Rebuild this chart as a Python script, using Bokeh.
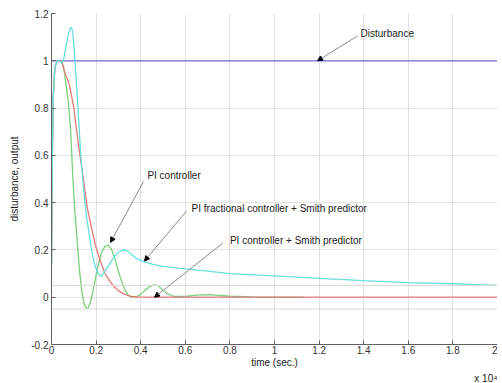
from bokeh.plotting import figure
from bokeh.models import FixedTicker, Span, Arrow, NormalHead, Label, Title
from bokeh.embed import file_html
from bokeh.resources import INLINE

# ---------------- data ----------------
x_ticks = [0, 0.2, 0.4, 0.6, 0.8, 1.0, 1.2, 1.4, 1.6, 1.8, 2.0]
x_tick_labels = ["0", "0.2", "0.4", "0.6", "0.8", "1", "1.2", "1.4", "1.6", "1.8", "2"]
y_ticks = [-0.2, 0, 0.2, 0.4, 0.6, 0.8, 1.0, 1.2]
y_tick_labels = ["-0.2", "0", "0.2", "0.4", "0.6", "0.8", "1", "1.2"]

t_dist = [0, 2.0]
y_dist = [1.0, 1.0]

t_cyan = [0, 0.003, 0.008, 0.015, 0.025, 0.035, 0.045, 0.055, 0.065, 0.075, 0.085,
          0.09, 0.095, 0.1, 0.11, 0.12, 0.13, 0.14, 0.15, 0.16, 0.17, 0.18, 0.19,
          0.2, 0.21, 0.22, 0.23, 0.24, 0.26, 0.28, 0.3, 0.32, 0.34, 0.36, 0.38, 0.4,
          0.45, 0.5, 0.6, 0.7, 0.8, 1.0, 1.2, 1.4, 1.6, 1.8, 2.0]
y_cyan = [0.14, 0.55, 0.85, 0.97, 1.0, 1.0, 0.99, 1.01, 1.06, 1.11, 1.14,
          1.14, 1.12, 1.07, 0.93, 0.78, 0.62, 0.5, 0.4, 0.32, 0.26, 0.2, 0.15,
          0.12, 0.1, 0.09, 0.095, 0.11, 0.14, 0.17, 0.19, 0.2, 0.195, 0.18, 0.165, 0.155,
          0.14, 0.13, 0.12, 0.11, 0.1, 0.09, 0.08, 0.07, 0.062, 0.057, 0.05]

t_red = [0, 0.003, 0.008, 0.015, 0.025, 0.035, 0.045, 0.06, 0.08, 0.1, 0.12, 0.14, 0.15,
         0.16, 0.18, 0.2, 0.22, 0.24, 0.26, 0.28, 0.3, 0.32, 0.34, 0.36, 0.38, 0.4,
         0.5, 1.0, 1.5, 2.0]
y_red = [0.14, 0.55, 0.85, 0.97, 1.0, 1.0, 1.0, 0.95, 0.9, 0.8, 0.65, 0.52, 0.45,
         0.38, 0.29, 0.21, 0.15, 0.1, 0.07, 0.045, 0.028, 0.016, 0.008, 0.003, 0.001, 0.0,
         0.0, 0.0, 0.0, 0.0]

t_green = [0, 0.003, 0.008, 0.015, 0.025, 0.035, 0.045, 0.055, 0.065, 0.075, 0.085,
           0.095, 0.105, 0.115, 0.125, 0.135, 0.145, 0.155, 0.165, 0.175, 0.185, 0.195,
           0.21, 0.225, 0.24, 0.255, 0.27, 0.285, 0.3, 0.315, 0.33, 0.345, 0.36, 0.38,
           0.4, 0.42, 0.44, 0.46, 0.48, 0.5, 0.52, 0.55, 0.6, 0.65, 0.7, 0.75, 0.8, 0.9,
           1.0, 1.13]
y_green = [0.14, 0.55, 0.85, 0.97, 1.0, 1.0, 1.0, 0.97, 0.9, 0.83, 0.72,
           0.52, 0.36, 0.24, 0.12, 0.03, -0.025, -0.045, -0.045, -0.02, 0.02, 0.07,
           0.14, 0.19, 0.215, 0.22, 0.2, 0.16, 0.11, 0.065, 0.03, 0.008, 0.0, 0.002,
           0.012, 0.03, 0.045, 0.052, 0.048, 0.03, 0.014, 0.003, 0.003, 0.009, 0.011,
           0.008, 0.004, 0.001, 0.0, 0.0]

band_levels = [0.05, -0.05]

# annotations: text, text x, text y, arrow tail x, tail y, tip x, tip y
ann_text = ["Disturbance", "PI controller",
            "PI fractional controller + Smith predictor",
            "PI controller + Smith predictor"]
ann_tx = [1.386, 0.43, 0.628, 0.80]
ann_ty = [1.114, 0.513, 0.377, 0.240]
arr_x0 = [1.372, 0.413, 0.605, 0.767]
arr_y0 = [1.105, 0.490, 0.364, 0.228]
arr_x1 = [1.193, 0.265, 0.417, 0.462]
arr_y1 = [1.0, 0.232, 0.153, 0.0]

FONT = "Liberation Sans"

p = figure(width=497, height=383, output_backend="svg", toolbar_location=None,
           x_range=(0, 2), y_range=(-0.2, 1.2),
           min_border_left=51, min_border_right=0, min_border_top=13, min_border_bottom=0)
p.outline_line_color = None
p.background_fill_color = "white"

for ax, ticks, labels in ((p.xaxis[0], x_ticks, x_tick_labels), (p.yaxis[0], y_ticks, y_tick_labels)):
    ax.ticker = FixedTicker(ticks=ticks)
    ax.major_label_overrides = {t: l for t, l in zip(ticks, labels)}
    ax.major_tick_in = 4
    ax.major_tick_out = 0
    ax.minor_tick_line_color = None
    ax.axis_line_color = "#606060"
    ax.major_tick_line_color = "#606060"
    ax.major_label_text_font = FONT
    ax.major_label_text_font_size = "10px"
    ax.major_label_text_color = "#333333"
    ax.axis_label_text_font = FONT
    ax.axis_label_text_font_size = "10px"
    ax.axis_label_text_font_style = "normal"
    ax.axis_label_text_color = "#222222"
    ax.major_label_standoff = 3

p.xaxis.axis_label = "time (sec.)"
p.yaxis.axis_label = "disturbance, output"
p.xaxis.major_label_standoff = 1
p.xaxis.axis_label_standoff = 0
p.yaxis.axis_label_standoff = 8

p.add_layout(Title(text="x 10\u2074", align="right", text_font=FONT, text_font_size="10px",
                   text_font_style="normal", text_color="#222222", standoff=0, offset=0),
             "below")

p.xgrid.ticker = FixedTicker(ticks=x_ticks)
p.ygrid.ticker = FixedTicker(ticks=y_ticks)
p.grid.grid_line_color = "#e2e2e2"
p.grid.grid_line_width = 1

for lv in band_levels:
    p.add_layout(Span(location=lv, dimension="width", line_color="#d8d8d8", line_width=1))

p.line(t_dist, y_dist, line_color="#6e6ee0", line_width=1.3)
p.line(t_green, y_green, line_color="#7acf7a", line_width=1.3)
p.line(t_red, y_red, line_color="#e47a7a", line_width=1.3)
p.line(t_cyan, y_cyan, line_color="#68dede", line_width=1.3)

for txt, tx, ty, x0, y0, x1, y1 in zip(ann_text, ann_tx, ann_ty, arr_x0, arr_y0, arr_x1, arr_y1):
    p.add_layout(Arrow(x_start=x0, y_start=y0, x_end=x1, y_end=y1,
                       line_color="#8a8a8a", line_width=1,
                       end=NormalHead(size=5, fill_color="black", line_color="black")))
    p.add_layout(Label(x=tx, y=ty, text=txt, text_font=FONT, text_font_size="10px",
                       text_color="#222222", text_baseline="middle", text_align="left"))

open("out.html", "w").write(file_html(p, INLINE))
